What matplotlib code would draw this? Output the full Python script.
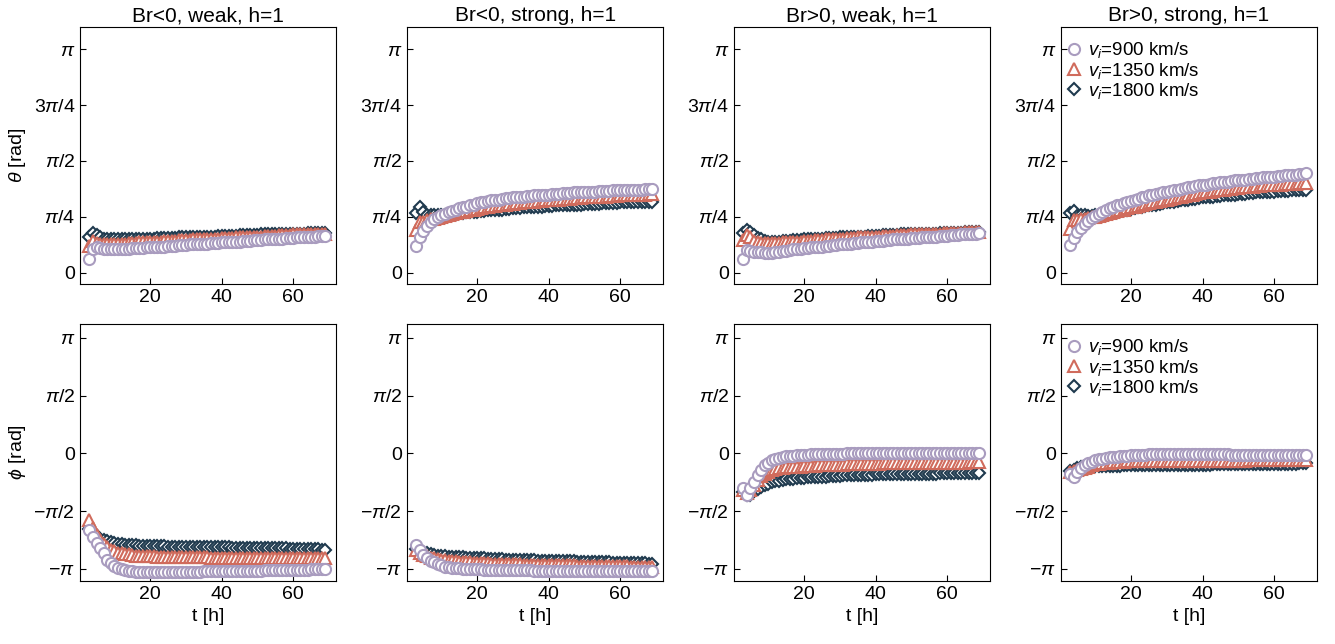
import numpy as np
import matplotlib

matplotlib.use("Agg")
import matplotlib.pyplot as plt

plt.rcParams["font.family"] = ["Liberation Sans", "DejaVu Sans"]
plt.rcParams["mathtext.fontset"] = "custom"
plt.rcParams["mathtext.rm"] = "Liberation Sans"
plt.rcParams["mathtext.it"] = "Liberation Sans:italic"
plt.rcParams["axes.unicode_minus"] = True

C900 = "#a99cbf"
C1350 = "#d06b5c"
C1800 = "#1f3a4e"

T_HOURS = list(range(3, 70))
SPEEDS = ["900", "1350", "1800"]
TITLES = ["Br<0, weak, h=1", "Br<0, strong, h=1", "Br>0, weak, h=1", "Br>0, strong, h=1"]

# theta [rad], columns: Br<0 weak, Br<0 strong, Br>0 weak, Br>0 strong
th_neg_weak_900 = [0.19, 0.33, 0.36, 0.35, 0.34, 0.33, 0.33, 0.33, 0.33, 0.34,
                   0.34, 0.34, 0.35, 0.35, 0.35, 0.35, 0.36, 0.36, 0.36, 0.37,
                   0.37, 0.37, 0.38, 0.38, 0.38, 0.39, 0.39, 0.39, 0.40, 0.40,
                   0.40, 0.41, 0.41, 0.41, 0.42, 0.42, 0.42, 0.43, 0.43, 0.43,
                   0.44, 0.44, 0.44, 0.45, 0.45, 0.45, 0.46, 0.46, 0.46, 0.47,
                   0.47, 0.47, 0.48, 0.48, 0.48, 0.49, 0.49, 0.49, 0.50, 0.50,
                   0.50, 0.51, 0.51, 0.51, 0.52, 0.52, 0.52]
th_neg_weak_1350 = [0.38, 0.45, 0.42, 0.40, 0.40, 0.40, 0.40, 0.40, 0.41, 0.41,
                    0.41, 0.42, 0.42, 0.42, 0.43, 0.43, 0.43, 0.44, 0.44, 0.44,
                    0.44, 0.45, 0.45, 0.45, 0.45, 0.46, 0.46, 0.46, 0.46, 0.47,
                    0.47, 0.47, 0.47, 0.48, 0.48, 0.48, 0.48, 0.49, 0.49, 0.49,
                    0.49, 0.50, 0.50, 0.50, 0.50, 0.51, 0.51, 0.51, 0.51, 0.52,
                    0.52, 0.52, 0.52, 0.53, 0.53, 0.53, 0.53, 0.54, 0.54, 0.54,
                    0.54, 0.54, 0.55, 0.55, 0.55, 0.55, 0.55]
th_neg_weak_1800 = [0.50, 0.56, 0.53, 0.50, 0.48, 0.47, 0.47, 0.47, 0.47, 0.47,
                    0.47, 0.47, 0.47, 0.48, 0.48, 0.48, 0.48, 0.48, 0.48, 0.49,
                    0.49, 0.49, 0.49, 0.49, 0.49, 0.50, 0.50, 0.50, 0.50, 0.50,
                    0.50, 0.51, 0.51, 0.51, 0.51, 0.51, 0.52, 0.52, 0.52, 0.52,
                    0.52, 0.52, 0.53, 0.53, 0.53, 0.53, 0.53, 0.53, 0.54, 0.54,
                    0.54, 0.54, 0.54, 0.54, 0.55, 0.55, 0.55, 0.55, 0.55, 0.55,
                    0.55, 0.56, 0.56, 0.56, 0.56, 0.56, 0.56]

th_neg_strong_900 = [0.38, 0.50, 0.59, 0.66, 0.71, 0.76, 0.79, 0.81, 0.83, 0.85,
                     0.87, 0.89, 0.91, 0.92, 0.93, 0.95, 0.96, 0.98, 0.99, 1.00,
                     1.01, 1.02, 1.02, 1.03, 1.04, 1.05, 1.05, 1.06, 1.06, 1.07,
                     1.07, 1.08, 1.08, 1.09, 1.09, 1.09, 1.10, 1.10, 1.11, 1.11,
                     1.11, 1.12, 1.12, 1.12, 1.13, 1.13, 1.13, 1.14, 1.14, 1.14,
                     1.14, 1.15, 1.15, 1.15, 1.15, 1.16, 1.16, 1.16, 1.16, 1.16,
                     1.17, 1.17, 1.17, 1.17, 1.18, 1.18, 1.18]
th_neg_strong_1350 = [0.60, 0.71, 0.72, 0.74, 0.75, 0.76, 0.77, 0.79, 0.80, 0.82,
                      0.83, 0.84, 0.85, 0.86, 0.87, 0.88, 0.89, 0.90, 0.91, 0.92,
                      0.93, 0.94, 0.94, 0.95, 0.96, 0.96, 0.97, 0.97, 0.98, 0.98,
                      0.99, 0.99, 1.00, 1.00, 1.01, 1.01, 1.02, 1.02, 1.02, 1.03,
                      1.03, 1.04, 1.04, 1.04, 1.05, 1.05, 1.05, 1.06, 1.06, 1.06,
                      1.07, 1.07, 1.07, 1.07, 1.08, 1.08, 1.08, 1.09, 1.09, 1.09,
                      1.09, 1.10, 1.10, 1.10, 1.10, 1.11, 1.11]
th_neg_strong_1800 = [0.84, 0.93, 0.86, 0.82, 0.81, 0.81, 0.81, 0.81, 0.82, 0.82,
                      0.83, 0.83, 0.84, 0.84, 0.85, 0.85, 0.86, 0.86, 0.87, 0.87,
                      0.88, 0.88, 0.89, 0.89, 0.89, 0.90, 0.90, 0.91, 0.91, 0.91,
                      0.92, 0.92, 0.92, 0.93, 0.93, 0.93, 0.94, 0.94, 0.94, 0.95,
                      0.95, 0.95, 0.95, 0.96, 0.96, 0.96, 0.96, 0.97, 0.97, 0.97,
                      0.97, 0.97, 0.98, 0.98, 0.98, 0.98, 0.98, 0.99, 0.99, 0.99,
                      0.99, 0.99, 1.00, 1.00, 1.00, 1.00, 1.00]

th_pos_weak_900 = [0.20, 0.32, 0.31, 0.30, 0.29, 0.29, 0.28, 0.28, 0.28, 0.29,
                   0.30, 0.31, 0.31, 0.32, 0.33, 0.33, 0.34, 0.35, 0.35, 0.36,
                   0.36, 0.37, 0.37, 0.38, 0.38, 0.39, 0.39, 0.40, 0.40, 0.41,
                   0.41, 0.42, 0.42, 0.43, 0.43, 0.44, 0.44, 0.45, 0.45, 0.45,
                   0.46, 0.46, 0.47, 0.47, 0.47, 0.48, 0.48, 0.49, 0.49, 0.49,
                   0.50, 0.50, 0.50, 0.51, 0.51, 0.52, 0.52, 0.52, 0.53, 0.53,
                   0.53, 0.54, 0.54, 0.54, 0.55, 0.55, 0.56]
th_pos_weak_1350 = [0.46, 0.53, 0.50, 0.45, 0.43, 0.42, 0.42, 0.42, 0.42, 0.42,
                    0.42, 0.43, 0.43, 0.43, 0.44, 0.44, 0.44, 0.45, 0.45, 0.45,
                    0.46, 0.46, 0.46, 0.47, 0.47, 0.47, 0.48, 0.48, 0.48, 0.49,
                    0.49, 0.49, 0.50, 0.50, 0.50, 0.51, 0.51, 0.51, 0.51, 0.52,
                    0.52, 0.52, 0.52, 0.53, 0.53, 0.53, 0.53, 0.54, 0.54, 0.54,
                    0.54, 0.55, 0.55, 0.55, 0.55, 0.55, 0.56, 0.56, 0.56, 0.56,
                    0.56, 0.56, 0.57, 0.57, 0.57, 0.57, 0.57]
th_pos_weak_1800 = [0.56, 0.60, 0.57, 0.53, 0.49, 0.47, 0.45, 0.44, 0.44, 0.44,
                    0.44, 0.45, 0.45, 0.45, 0.46, 0.46, 0.46, 0.47, 0.47, 0.47,
                    0.48, 0.48, 0.48, 0.49, 0.49, 0.49, 0.49, 0.50, 0.50, 0.50,
                    0.50, 0.51, 0.51, 0.51, 0.51, 0.52, 0.52, 0.52, 0.52, 0.53,
                    0.53, 0.53, 0.53, 0.53, 0.54, 0.54, 0.54, 0.54, 0.54, 0.55,
                    0.55, 0.55, 0.55, 0.55, 0.55, 0.56, 0.56, 0.56, 0.56, 0.56,
                    0.56, 0.56, 0.57, 0.57, 0.57, 0.57, 0.57]

th_pos_strong_900 = [0.39, 0.49, 0.57, 0.63, 0.68, 0.73, 0.77, 0.80, 0.83, 0.86,
                     0.88, 0.91, 0.93, 0.95, 0.96, 0.98, 1.00, 1.01, 1.03, 1.04,
                     1.06, 1.07, 1.09, 1.10, 1.11, 1.12, 1.13, 1.14, 1.15, 1.16,
                     1.17, 1.18, 1.19, 1.20, 1.21, 1.22, 1.23, 1.24, 1.24, 1.25,
                     1.26, 1.26, 1.27, 1.28, 1.28, 1.29, 1.30, 1.30, 1.31, 1.31,
                     1.32, 1.32, 1.33, 1.33, 1.34, 1.34, 1.35, 1.35, 1.36, 1.36,
                     1.37, 1.37, 1.38, 1.38, 1.39, 1.39, 1.40]
th_pos_strong_1350 = [0.62, 0.74, 0.74, 0.75, 0.76, 0.77, 0.78, 0.79, 0.80, 0.82,
                      0.83, 0.84, 0.85, 0.87, 0.88, 0.89, 0.91, 0.92, 0.93, 0.94,
                      0.95, 0.97, 0.98, 0.99, 1.00, 1.01, 1.02, 1.03, 1.04, 1.05,
                      1.06, 1.07, 1.08, 1.09, 1.10, 1.11, 1.12, 1.13, 1.14, 1.14,
                      1.15, 1.16, 1.16, 1.17, 1.18, 1.18, 1.19, 1.19, 1.20, 1.20,
                      1.21, 1.21, 1.22, 1.22, 1.23, 1.23, 1.23, 1.24, 1.24, 1.24,
                      1.25, 1.25, 1.25, 1.25, 1.26, 1.26, 1.26]
th_pos_strong_1800 = [0.84, 0.87, 0.80, 0.81, 0.81, 0.80, 0.80, 0.81, 0.81, 0.82,
                      0.83, 0.84, 0.85, 0.86, 0.87, 0.88, 0.89, 0.90, 0.91, 0.92,
                      0.93, 0.94, 0.95, 0.95, 0.96, 0.97, 0.98, 0.99, 0.99, 1.00,
                      1.01, 1.02, 1.02, 1.03, 1.04, 1.04, 1.05, 1.06, 1.06, 1.07,
                      1.07, 1.08, 1.08, 1.09, 1.09, 1.10, 1.10, 1.11, 1.11, 1.11,
                      1.12, 1.12, 1.13, 1.13, 1.13, 1.14, 1.14, 1.14, 1.15, 1.15,
                      1.15, 1.15, 1.16, 1.16, 1.16, 1.16, 1.16]

# phi [rad]
ph_neg_weak_900 = [-2.09, -2.28, -2.45, -2.58, -2.72, -2.91, -2.99, -3.07, -3.12, -3.16,
                   -3.18, -3.20, -3.21, -3.22, -3.23, -3.23, -3.24, -3.24, -3.24, -3.24,
                   -3.24, -3.24, -3.23, -3.23, -3.23, -3.23, -3.23, -3.22, -3.22, -3.22,
                   -3.22, -3.22, -3.21, -3.21, -3.21, -3.21, -3.21, -3.20, -3.20, -3.20,
                   -3.20, -3.20, -3.20, -3.19, -3.19, -3.19, -3.19, -3.19, -3.19, -3.18,
                   -3.18, -3.18, -3.18, -3.18, -3.18, -3.17, -3.17, -3.17, -3.17, -3.17,
                   -3.17, -3.17, -3.16, -3.16, -3.16, -3.16, -3.16]
ph_neg_weak_1350 = [-1.82, -2.04, -2.23, -2.37, -2.47, -2.56, -2.62, -2.67, -2.70, -2.72,
                    -2.74, -2.75, -2.77, -2.78, -2.78, -2.79, -2.80, -2.80, -2.80, -2.81,
                    -2.81, -2.81, -2.81, -2.82, -2.82, -2.82, -2.82, -2.82, -2.83, -2.83,
                    -2.83, -2.83, -2.83, -2.83, -2.84, -2.84, -2.84, -2.84, -2.84, -2.84,
                    -2.84, -2.85, -2.85, -2.85, -2.85, -2.85, -2.85, -2.85, -2.85, -2.85,
                    -2.85, -2.85, -2.85, -2.86, -2.86, -2.86, -2.86, -2.86, -2.86, -2.86,
                    -2.86, -2.86, -2.86, -2.86, -2.86, -2.86, -2.86]
ph_neg_weak_1800 = [-2.07, -2.15, -2.26, -2.34, -2.37, -2.39, -2.42, -2.45, -2.46, -2.47,
                    -2.48, -2.49, -2.50, -2.50, -2.51, -2.51, -2.52, -2.52, -2.53, -2.53,
                    -2.53, -2.53, -2.54, -2.54, -2.54, -2.54, -2.55, -2.55, -2.55, -2.55,
                    -2.55, -2.56, -2.56, -2.56, -2.56, -2.56, -2.56, -2.56, -2.56, -2.56,
                    -2.57, -2.57, -2.57, -2.57, -2.57, -2.57, -2.57, -2.57, -2.57, -2.57,
                    -2.58, -2.58, -2.58, -2.58, -2.58, -2.58, -2.59, -2.59, -2.59, -2.59,
                    -2.60, -2.60, -2.60, -2.61, -2.61, -2.62, -2.62]

ph_neg_strong_900 = [-2.50, -2.64, -2.77, -2.86, -2.92, -2.96, -3.01, -3.05, -3.08, -3.10,
                     -3.12, -3.13, -3.13, -3.14, -3.15, -3.15, -3.16, -3.16, -3.16, -3.17,
                     -3.17, -3.17, -3.17, -3.17, -3.18, -3.18, -3.18, -3.18, -3.18, -3.18,
                     -3.18, -3.18, -3.18, -3.19, -3.19, -3.19, -3.19, -3.19, -3.19, -3.19,
                     -3.19, -3.19, -3.19, -3.20, -3.20, -3.20, -3.20, -3.20, -3.20, -3.20,
                     -3.20, -3.20, -3.20, -3.20, -3.20, -3.21, -3.21, -3.21, -3.21, -3.21,
                     -3.21, -3.21, -3.21, -3.21, -3.21, -3.21, -3.21]
ph_neg_strong_1350 = [-2.64, -2.72, -2.76, -2.80, -2.84, -2.86, -2.88, -2.90, -2.91, -2.92,
                      -2.93, -2.94, -2.95, -2.95, -2.96, -2.96, -2.97, -2.98, -2.98, -2.99,
                      -2.99, -3.00, -3.00, -3.00, -3.01, -3.01, -3.01, -3.02, -3.02, -3.02,
                      -3.03, -3.03, -3.03, -3.03, -3.04, -3.04, -3.04, -3.04, -3.05, -3.05,
                      -3.05, -3.05, -3.05, -3.05, -3.05, -3.06, -3.06, -3.06, -3.06, -3.06,
                      -3.06, -3.06, -3.06, -3.07, -3.07, -3.07, -3.07, -3.07, -3.07, -3.07,
                      -3.08, -3.08, -3.08, -3.08, -3.09, -3.09, -3.10]
ph_neg_strong_1800 = [-2.61, -2.62, -2.68, -2.72, -2.75, -2.77, -2.78, -2.79, -2.80, -2.81,
                      -2.82, -2.82, -2.83, -2.83, -2.84, -2.84, -2.85, -2.86, -2.86, -2.86,
                      -2.87, -2.87, -2.88, -2.88, -2.88, -2.89, -2.89, -2.89, -2.90, -2.90,
                      -2.90, -2.91, -2.91, -2.91, -2.92, -2.92, -2.92, -2.93, -2.93, -2.93,
                      -2.94, -2.94, -2.94, -2.94, -2.94, -2.95, -2.95, -2.95, -2.95, -2.95,
                      -2.96, -2.96, -2.96, -2.96, -2.96, -2.97, -2.97, -2.97, -2.97, -2.97,
                      -2.98, -2.98, -2.98, -2.99, -2.99, -3.00, -3.01]

ph_pos_weak_900 = [-0.95, -1.14, -0.95, -0.79, -0.60, -0.45, -0.33, -0.25, -0.19, -0.15,
                   -0.12, -0.10, -0.08, -0.07, -0.06, -0.05, -0.05, -0.04, -0.04, -0.03,
                   -0.03, -0.03, -0.02, -0.02, -0.02, -0.01, -0.01, -0.01, -0.01, 0.00,
                   0.00, 0.00, 0.00, 0.00, 0.00, 0.00, 0.00, 0.00, 0.00, 0.00,
                   0.00, 0.00, 0.01, 0.01, 0.01, 0.01, 0.01, 0.01, 0.01, 0.01,
                   0.01, 0.01, 0.01, 0.01, 0.01, 0.02, 0.02, 0.02, 0.02, 0.02,
                   0.02, 0.02, 0.02, 0.02, 0.02, 0.02, 0.01]
ph_pos_weak_1350 = [-1.00, -1.09, -1.00, -0.87, -0.73, -0.62, -0.55, -0.50, -0.46, -0.43,
                    -0.41, -0.40, -0.38, -0.37, -0.37, -0.36, -0.36, -0.35, -0.35, -0.34,
                    -0.34, -0.33, -0.33, -0.32, -0.32, -0.32, -0.31, -0.31, -0.31, -0.30,
                    -0.30, -0.30, -0.29, -0.29, -0.29, -0.28, -0.28, -0.28, -0.28, -0.27,
                    -0.27, -0.27, -0.27, -0.27, -0.27, -0.26, -0.26, -0.26, -0.26, -0.26,
                    -0.26, -0.26, -0.26, -0.25, -0.25, -0.25, -0.25, -0.25, -0.25, -0.25,
                    -0.25, -0.25, -0.25, -0.24, -0.24, -0.24, -0.24]
ph_pos_weak_1800 = [-1.06, -1.14, -1.12, -1.03, -0.97, -0.92, -0.87, -0.82, -0.79, -0.76,
                    -0.74, -0.72, -0.71, -0.70, -0.69, -0.68, -0.67, -0.66, -0.65, -0.65,
                    -0.64, -0.64, -0.63, -0.63, -0.62, -0.62, -0.61, -0.61, -0.60, -0.60,
                    -0.60, -0.59, -0.59, -0.59, -0.58, -0.58, -0.58, -0.57, -0.57, -0.57,
                    -0.57, -0.56, -0.56, -0.56, -0.56, -0.56, -0.55, -0.55, -0.55, -0.55,
                    -0.55, -0.55, -0.55, -0.55, -0.55, -0.54, -0.54, -0.54, -0.54, -0.54,
                    -0.54, -0.54, -0.54, -0.54, -0.54, -0.54, -0.54]

ph_pos_strong_900 = [-0.57, -0.65, -0.52, -0.41, -0.33, -0.27, -0.23, -0.19, -0.16, -0.14,
                     -0.12, -0.11, -0.10, -0.09, -0.08, -0.07, -0.06, -0.05, -0.05, -0.04,
                     -0.04, -0.04, -0.03, -0.03, -0.03, -0.03, -0.03, -0.03, -0.03, -0.03,
                     -0.03, -0.03, -0.03, -0.03, -0.03, -0.03, -0.03, -0.03, -0.03, -0.03,
                     -0.03, -0.03, -0.03, -0.03, -0.03, -0.04, -0.04, -0.04, -0.04, -0.04,
                     -0.04, -0.04, -0.04, -0.04, -0.04, -0.04, -0.04, -0.04, -0.04, -0.04,
                     -0.04, -0.04, -0.05, -0.05, -0.05, -0.05, -0.05]
ph_pos_strong_1350 = [-0.52, -0.49, -0.46, -0.42, -0.39, -0.36, -0.33, -0.30, -0.28, -0.27,
                      -0.26, -0.25, -0.24, -0.24, -0.23, -0.23, -0.22, -0.22, -0.22, -0.21,
                      -0.21, -0.21, -0.21, -0.21, -0.21, -0.21, -0.21, -0.21, -0.21, -0.21,
                      -0.20, -0.20, -0.20, -0.20, -0.20, -0.20, -0.20, -0.20, -0.20, -0.20,
                      -0.20, -0.20, -0.20, -0.20, -0.20, -0.20, -0.20, -0.20, -0.20, -0.20,
                      -0.19, -0.19, -0.19, -0.19, -0.19, -0.19, -0.19, -0.19, -0.19, -0.19,
                      -0.19, -0.19, -0.19, -0.19, -0.19, -0.19, -0.19]
ph_pos_strong_1800 = [-0.49, -0.44, -0.41, -0.38, -0.37, -0.36, -0.35, -0.35, -0.35, -0.34,
                      -0.34, -0.34, -0.34, -0.34, -0.34, -0.33, -0.33, -0.33, -0.33, -0.33,
                      -0.33, -0.33, -0.33, -0.33, -0.33, -0.32, -0.32, -0.32, -0.32, -0.32,
                      -0.31, -0.31, -0.31, -0.31, -0.31, -0.31, -0.31, -0.31, -0.31, -0.31,
                      -0.30, -0.30, -0.30, -0.30, -0.30, -0.30, -0.30, -0.30, -0.30, -0.30,
                      -0.29, -0.29, -0.29, -0.29, -0.29, -0.29, -0.29, -0.29, -0.29, -0.29,
                      -0.28, -0.28, -0.28, -0.28, -0.27, -0.27, -0.27]

THETA = [
    [th_neg_weak_900, th_neg_weak_1350, th_neg_weak_1800],
    [th_neg_strong_900, th_neg_strong_1350, th_neg_strong_1800],
    [th_pos_weak_900, th_pos_weak_1350, th_pos_weak_1800],
    [th_pos_strong_900, th_pos_strong_1350, th_pos_strong_1800],
]
PHI = [
    [ph_neg_weak_900, ph_neg_weak_1350, ph_neg_weak_1800],
    [ph_neg_strong_900, ph_neg_strong_1350, ph_neg_strong_1800],
    [ph_pos_weak_900, ph_pos_weak_1350, ph_pos_weak_1800],
    [ph_pos_strong_900, ph_pos_strong_1350, ph_pos_strong_1800],
]

STYLES = [
    dict(marker="o", color=C900, ms=8.0, zorder=4),
    dict(marker="^", color=C1350, ms=8.0, zorder=3),
    dict(marker="D", color=C1800, ms=6.5, zorder=2),
]

TH_TICKS = [0, np.pi / 4, np.pi / 2, 3 * np.pi / 4, np.pi]
TH_LABELS = ["0", r"$\pi/4$", r"$\pi/2$", r"$3\pi/4$", r"$\pi$"]
PH_TICKS = [-np.pi, -np.pi / 2, 0, np.pi / 2, np.pi]
PH_LABELS = [r"$-\pi$", r"$-\pi/2$", "0", r"$\pi/2$", r"$\pi$"]


def draw(ax, series):
    for vals, sty, sp in zip(series, STYLES, SPEEDS):
        ax.plot(T_HOURS, vals, linestyle="none", marker=sty["marker"],
                markersize=sty["ms"], markerfacecolor="white",
                markeredgecolor=sty["color"], markeredgewidth=1.5,
                zorder=sty["zorder"], label=rf"$v_i$={sp} km/s")
    ax.set_xlim(0.4, 72.0)
    ax.set_xticks([20, 40, 60])
    ax.tick_params(direction="in", length=4, labelsize=14)


def main():
    fig, axes = plt.subplots(2, 4, figsize=(13.35, 6.44), dpi=100)
    fig.subplots_adjust(left=0.06, right=0.9865, top=0.958, bottom=0.098,
                        wspace=0.277, hspace=0.156)

    for j in range(4):
        ax = axes[0, j]
        draw(ax, THETA[j])
        ax.set_ylim(-0.154, 3.45)
        ax.set_yticks(TH_TICKS)
        ax.set_yticklabels(TH_LABELS)
        ax.set_title(TITLES[j], fontsize=15, pad=4)

        ax = axes[1, j]
        draw(ax, PHI[j])
        ax.set_ylim(-3.47, 3.52)
        ax.set_yticks(PH_TICKS)
        ax.set_yticklabels(PH_LABELS)
        ax.set_xlabel("t [h]", fontsize=14)

    axes[0, 0].set_ylabel(r"$\theta$ [rad]", fontsize=14)
    axes[1, 0].set_ylabel(r"$\phi$ [rad]", fontsize=14)

    for ax in (axes[0, 3], axes[1, 3]):
        ax.legend(loc="upper left", frameon=False, fontsize=13.5,
                  handletextpad=0.35, borderaxespad=0.3, labelspacing=0.02,
                  handlelength=0.8, bbox_to_anchor=(-0.03, 1.0))

    fig.savefig("out.png", dpi=100)
    plt.close(fig)


if __name__ == "__main__":
    main()
